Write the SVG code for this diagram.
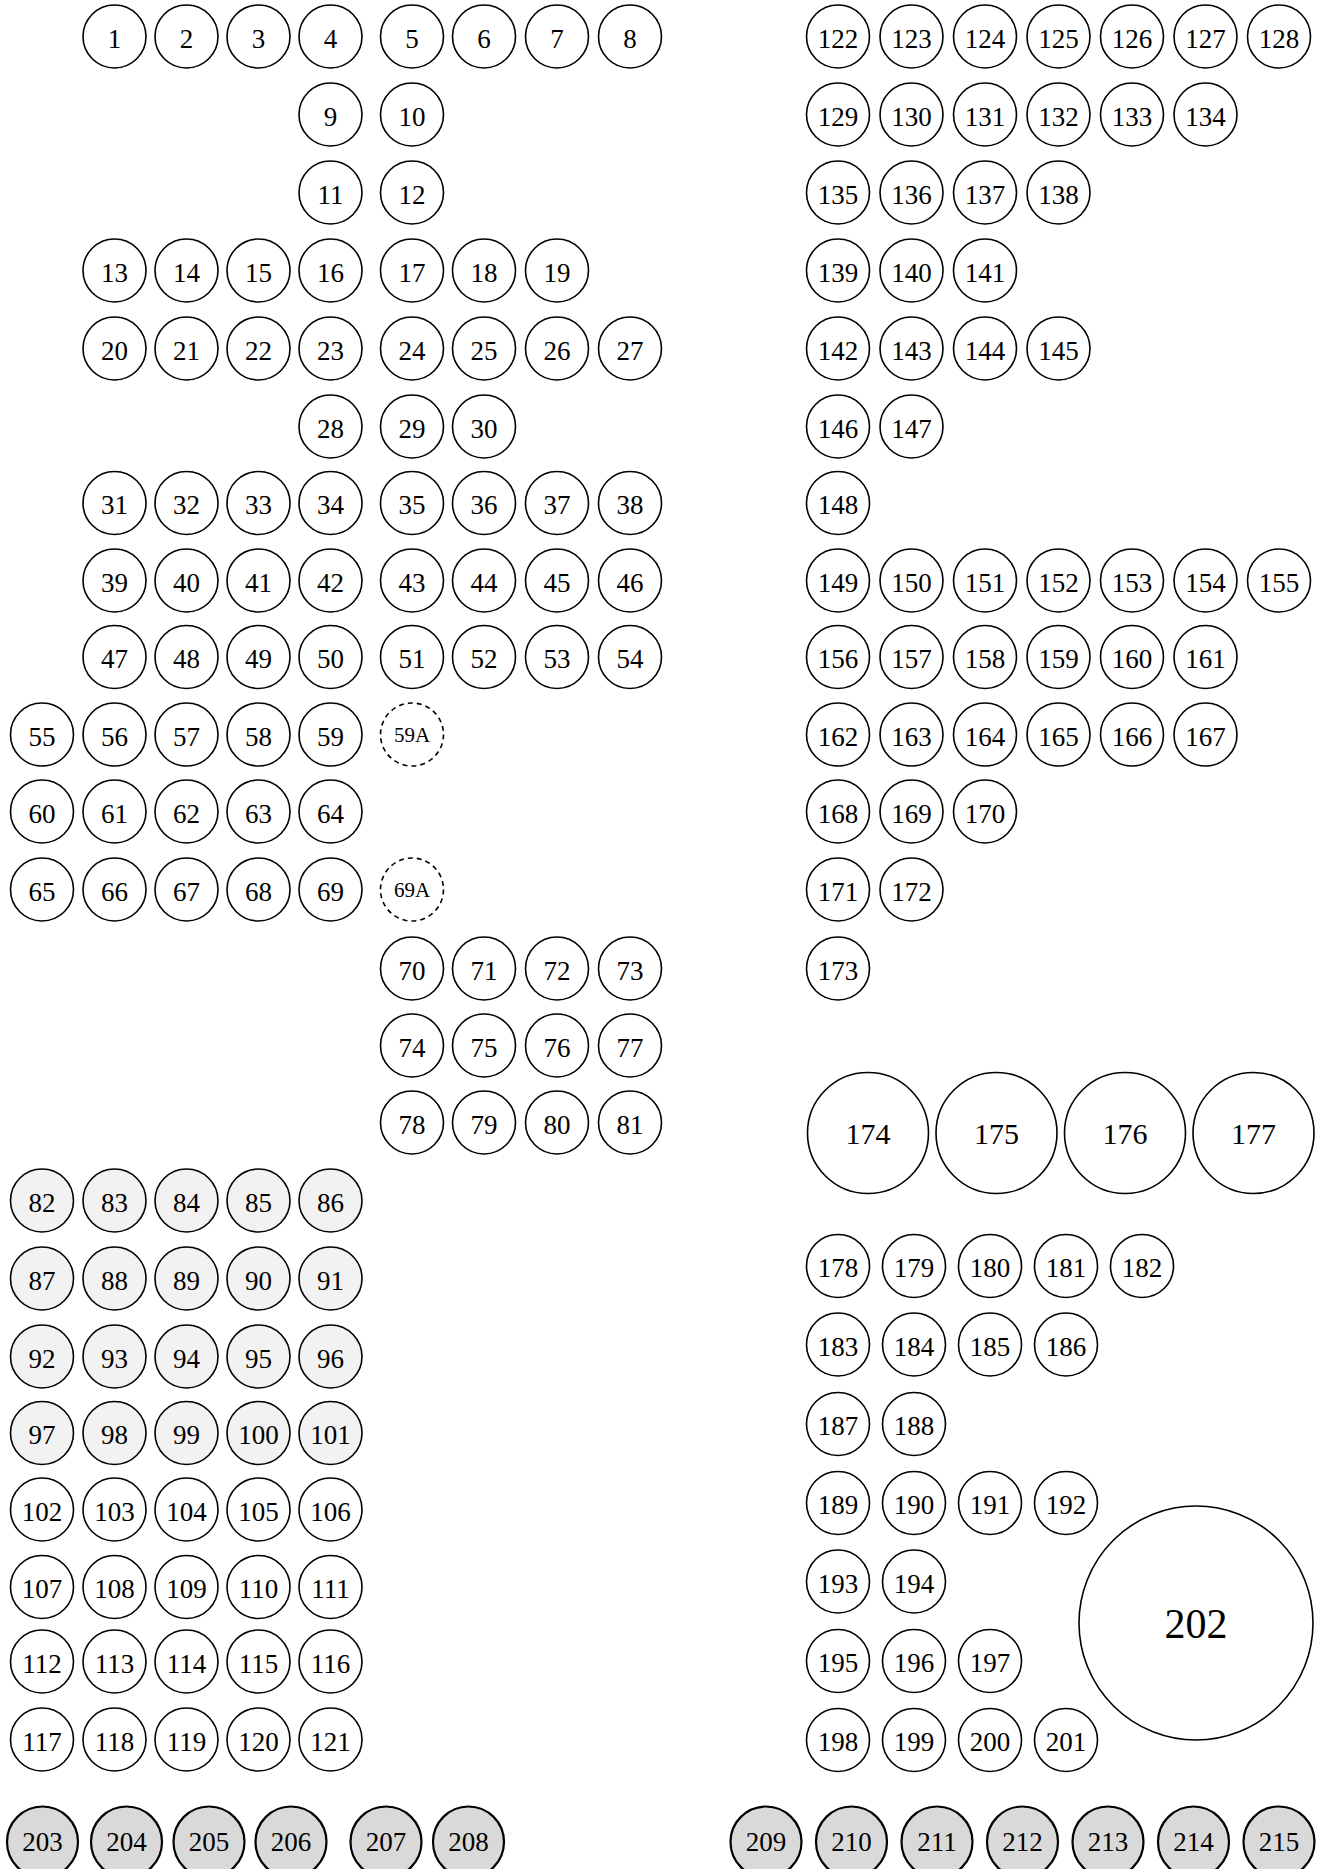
<svg xmlns="http://www.w3.org/2000/svg" width="1323" height="1869" viewBox="0 0 1323 1869">
<style>
circle{fill:#fff;stroke:#000;stroke-width:1.6}
circle.l{fill:#f2f2f2}
circle.g{fill:#d9d9d9;stroke-width:2.2}
circle.d{stroke-dasharray:5 4}
text{font-family:'Liberation Serif','Times New Roman',Times,serif;font-size:27px;text-anchor:middle;fill:#000}
text.s{font-size:21px}
text.b{font-size:30px}
text.x{font-size:42px}
</style>
<rect width="1323" height="1869" fill="#fff"/>
<g id="connectors"/>
<g id="nodes" font-family="Liberation Serif, Times New Roman, serif">
<g id="n1"><circle cx="114.5" cy="36.5" r="31.5"/><text x="114.5" y="47.5">1</text></g>
<g id="n2"><circle cx="186.5" cy="36.5" r="31.5"/><text x="186.5" y="47.5">2</text></g>
<g id="n3"><circle cx="258.5" cy="36.5" r="31.5"/><text x="258.5" y="47.5">3</text></g>
<g id="n4"><circle cx="330.5" cy="36.5" r="31.5"/><text x="330.5" y="47.5">4</text></g>
<g id="n5"><circle cx="412" cy="36.5" r="31.5"/><text x="412" y="47.5">5</text></g>
<g id="n6"><circle cx="484" cy="36.5" r="31.5"/><text x="484" y="47.5">6</text></g>
<g id="n7"><circle cx="557" cy="36.5" r="31.5"/><text x="557" y="47.5">7</text></g>
<g id="n8"><circle cx="630" cy="36.5" r="31.5"/><text x="630" y="47.5">8</text></g>
<g id="n9"><circle cx="330.5" cy="114.5" r="31.5"/><text x="330.5" y="125.5">9</text></g>
<g id="n10"><circle cx="412" cy="114.5" r="31.5"/><text x="412" y="125.5">10</text></g>
<g id="n11"><circle cx="330.5" cy="192.5" r="31.5"/><text x="330.5" y="203.5">11</text></g>
<g id="n12"><circle cx="412" cy="192.5" r="31.5"/><text x="412" y="203.5">12</text></g>
<g id="n13"><circle cx="114.5" cy="270.5" r="31.5"/><text x="114.5" y="281.5">13</text></g>
<g id="n14"><circle cx="186.5" cy="270.5" r="31.5"/><text x="186.5" y="281.5">14</text></g>
<g id="n15"><circle cx="258.5" cy="270.5" r="31.5"/><text x="258.5" y="281.5">15</text></g>
<g id="n16"><circle cx="330.5" cy="270.5" r="31.5"/><text x="330.5" y="281.5">16</text></g>
<g id="n17"><circle cx="412" cy="270.5" r="31.5"/><text x="412" y="281.5">17</text></g>
<g id="n18"><circle cx="484" cy="270.5" r="31.5"/><text x="484" y="281.5">18</text></g>
<g id="n19"><circle cx="557" cy="270.5" r="31.5"/><text x="557" y="281.5">19</text></g>
<g id="n20"><circle cx="114.5" cy="348.5" r="31.5"/><text x="114.5" y="359.5">20</text></g>
<g id="n21"><circle cx="186.5" cy="348.5" r="31.5"/><text x="186.5" y="359.5">21</text></g>
<g id="n22"><circle cx="258.5" cy="348.5" r="31.5"/><text x="258.5" y="359.5">22</text></g>
<g id="n23"><circle cx="330.5" cy="348.5" r="31.5"/><text x="330.5" y="359.5">23</text></g>
<g id="n24"><circle cx="412" cy="348.5" r="31.5"/><text x="412" y="359.5">24</text></g>
<g id="n25"><circle cx="484" cy="348.5" r="31.5"/><text x="484" y="359.5">25</text></g>
<g id="n26"><circle cx="557" cy="348.5" r="31.5"/><text x="557" y="359.5">26</text></g>
<g id="n27"><circle cx="630" cy="348.5" r="31.5"/><text x="630" y="359.5">27</text></g>
<g id="n28"><circle cx="330.5" cy="426.5" r="31.5"/><text x="330.5" y="437.5">28</text></g>
<g id="n29"><circle cx="412" cy="426.5" r="31.5"/><text x="412" y="437.5">29</text></g>
<g id="n30"><circle cx="484" cy="426.5" r="31.5"/><text x="484" y="437.5">30</text></g>
<g id="n31"><circle cx="114.5" cy="503" r="31.5"/><text x="114.5" y="514">31</text></g>
<g id="n32"><circle cx="186.5" cy="503" r="31.5"/><text x="186.5" y="514">32</text></g>
<g id="n33"><circle cx="258.5" cy="503" r="31.5"/><text x="258.5" y="514">33</text></g>
<g id="n34"><circle cx="330.5" cy="503" r="31.5"/><text x="330.5" y="514">34</text></g>
<g id="n35"><circle cx="412" cy="503" r="31.5"/><text x="412" y="514">35</text></g>
<g id="n36"><circle cx="484" cy="503" r="31.5"/><text x="484" y="514">36</text></g>
<g id="n37"><circle cx="557" cy="503" r="31.5"/><text x="557" y="514">37</text></g>
<g id="n38"><circle cx="630" cy="503" r="31.5"/><text x="630" y="514">38</text></g>
<g id="n39"><circle cx="114.5" cy="580.5" r="31.5"/><text x="114.5" y="591.5">39</text></g>
<g id="n40"><circle cx="186.5" cy="580.5" r="31.5"/><text x="186.5" y="591.5">40</text></g>
<g id="n41"><circle cx="258.5" cy="580.5" r="31.5"/><text x="258.5" y="591.5">41</text></g>
<g id="n42"><circle cx="330.5" cy="580.5" r="31.5"/><text x="330.5" y="591.5">42</text></g>
<g id="n43"><circle cx="412" cy="580.5" r="31.5"/><text x="412" y="591.5">43</text></g>
<g id="n44"><circle cx="484" cy="580.5" r="31.5"/><text x="484" y="591.5">44</text></g>
<g id="n45"><circle cx="557" cy="580.5" r="31.5"/><text x="557" y="591.5">45</text></g>
<g id="n46"><circle cx="630" cy="580.5" r="31.5"/><text x="630" y="591.5">46</text></g>
<g id="n47"><circle cx="114.5" cy="657" r="31.5"/><text x="114.5" y="668">47</text></g>
<g id="n48"><circle cx="186.5" cy="657" r="31.5"/><text x="186.5" y="668">48</text></g>
<g id="n49"><circle cx="258.5" cy="657" r="31.5"/><text x="258.5" y="668">49</text></g>
<g id="n50"><circle cx="330.5" cy="657" r="31.5"/><text x="330.5" y="668">50</text></g>
<g id="n51"><circle cx="412" cy="657" r="31.5"/><text x="412" y="668">51</text></g>
<g id="n52"><circle cx="484" cy="657" r="31.5"/><text x="484" y="668">52</text></g>
<g id="n53"><circle cx="557" cy="657" r="31.5"/><text x="557" y="668">53</text></g>
<g id="n54"><circle cx="630" cy="657" r="31.5"/><text x="630" y="668">54</text></g>
<g id="n55"><circle cx="42" cy="734.5" r="31.5"/><text x="42" y="745.5">55</text></g>
<g id="n56"><circle cx="114.5" cy="734.5" r="31.5"/><text x="114.5" y="745.5">56</text></g>
<g id="n57"><circle cx="186.5" cy="734.5" r="31.5"/><text x="186.5" y="745.5">57</text></g>
<g id="n58"><circle cx="258.5" cy="734.5" r="31.5"/><text x="258.5" y="745.5">58</text></g>
<g id="n59"><circle cx="330.5" cy="734.5" r="31.5"/><text x="330.5" y="745.5">59</text></g>
<g id="n59A"><circle class="d" cx="412" cy="734.5" r="31.5"/><text class="s" x="412" y="742">59A</text></g>
<g id="n60"><circle cx="42" cy="811.5" r="31.5"/><text x="42" y="822.5">60</text></g>
<g id="n61"><circle cx="114.5" cy="811.5" r="31.5"/><text x="114.5" y="822.5">61</text></g>
<g id="n62"><circle cx="186.5" cy="811.5" r="31.5"/><text x="186.5" y="822.5">62</text></g>
<g id="n63"><circle cx="258.5" cy="811.5" r="31.5"/><text x="258.5" y="822.5">63</text></g>
<g id="n64"><circle cx="330.5" cy="811.5" r="31.5"/><text x="330.5" y="822.5">64</text></g>
<g id="n65"><circle cx="42" cy="889.5" r="31.5"/><text x="42" y="900.5">65</text></g>
<g id="n66"><circle cx="114.5" cy="889.5" r="31.5"/><text x="114.5" y="900.5">66</text></g>
<g id="n67"><circle cx="186.5" cy="889.5" r="31.5"/><text x="186.5" y="900.5">67</text></g>
<g id="n68"><circle cx="258.5" cy="889.5" r="31.5"/><text x="258.5" y="900.5">68</text></g>
<g id="n69"><circle cx="330.5" cy="889.5" r="31.5"/><text x="330.5" y="900.5">69</text></g>
<g id="n69A"><circle class="d" cx="412" cy="889.5" r="31.5"/><text class="s" x="412" y="897">69A</text></g>
<g id="n70"><circle cx="412" cy="968.5" r="31.5"/><text x="412" y="979.5">70</text></g>
<g id="n71"><circle cx="484" cy="968.5" r="31.5"/><text x="484" y="979.5">71</text></g>
<g id="n72"><circle cx="557" cy="968.5" r="31.5"/><text x="557" y="979.5">72</text></g>
<g id="n73"><circle cx="630" cy="968.5" r="31.5"/><text x="630" y="979.5">73</text></g>
<g id="n74"><circle cx="412" cy="1045.5" r="31.5"/><text x="412" y="1056.5">74</text></g>
<g id="n75"><circle cx="484" cy="1045.5" r="31.5"/><text x="484" y="1056.5">75</text></g>
<g id="n76"><circle cx="557" cy="1045.5" r="31.5"/><text x="557" y="1056.5">76</text></g>
<g id="n77"><circle cx="630" cy="1045.5" r="31.5"/><text x="630" y="1056.5">77</text></g>
<g id="n78"><circle cx="412" cy="1122.5" r="31.5"/><text x="412" y="1133.5">78</text></g>
<g id="n79"><circle cx="484" cy="1122.5" r="31.5"/><text x="484" y="1133.5">79</text></g>
<g id="n80"><circle cx="557" cy="1122.5" r="31.5"/><text x="557" y="1133.5">80</text></g>
<g id="n81"><circle cx="630" cy="1122.5" r="31.5"/><text x="630" y="1133.5">81</text></g>
<g id="n82"><circle class="l" cx="42" cy="1200.5" r="31.5"/><text x="42" y="1211.5">82</text></g>
<g id="n83"><circle class="l" cx="114.5" cy="1200.5" r="31.5"/><text x="114.5" y="1211.5">83</text></g>
<g id="n84"><circle class="l" cx="186.5" cy="1200.5" r="31.5"/><text x="186.5" y="1211.5">84</text></g>
<g id="n85"><circle class="l" cx="258.5" cy="1200.5" r="31.5"/><text x="258.5" y="1211.5">85</text></g>
<g id="n86"><circle class="l" cx="330.5" cy="1200.5" r="31.5"/><text x="330.5" y="1211.5">86</text></g>
<g id="n87"><circle class="l" cx="42" cy="1278.5" r="31.5"/><text x="42" y="1289.5">87</text></g>
<g id="n88"><circle class="l" cx="114.5" cy="1278.5" r="31.5"/><text x="114.5" y="1289.5">88</text></g>
<g id="n89"><circle class="l" cx="186.5" cy="1278.5" r="31.5"/><text x="186.5" y="1289.5">89</text></g>
<g id="n90"><circle class="l" cx="258.5" cy="1278.5" r="31.5"/><text x="258.5" y="1289.5">90</text></g>
<g id="n91"><circle class="l" cx="330.5" cy="1278.5" r="31.5"/><text x="330.5" y="1289.5">91</text></g>
<g id="n92"><circle class="l" cx="42" cy="1356.5" r="31.5"/><text x="42" y="1367.5">92</text></g>
<g id="n93"><circle class="l" cx="114.5" cy="1356.5" r="31.5"/><text x="114.5" y="1367.5">93</text></g>
<g id="n94"><circle class="l" cx="186.5" cy="1356.5" r="31.5"/><text x="186.5" y="1367.5">94</text></g>
<g id="n95"><circle class="l" cx="258.5" cy="1356.5" r="31.5"/><text x="258.5" y="1367.5">95</text></g>
<g id="n96"><circle class="l" cx="330.5" cy="1356.5" r="31.5"/><text x="330.5" y="1367.5">96</text></g>
<g id="n97"><circle class="l" cx="42" cy="1433" r="31.5"/><text x="42" y="1444">97</text></g>
<g id="n98"><circle class="l" cx="114.5" cy="1433" r="31.5"/><text x="114.5" y="1444">98</text></g>
<g id="n99"><circle class="l" cx="186.5" cy="1433" r="31.5"/><text x="186.5" y="1444">99</text></g>
<g id="n100"><circle class="l" cx="258.5" cy="1433" r="31.5"/><text x="258.5" y="1444">100</text></g>
<g id="n101"><circle class="l" cx="330.5" cy="1433" r="31.5"/><text x="330.5" y="1444">101</text></g>
<g id="n102"><circle cx="42" cy="1509.5" r="31.5"/><text x="42" y="1520.5">102</text></g>
<g id="n103"><circle cx="114.5" cy="1509.5" r="31.5"/><text x="114.5" y="1520.5">103</text></g>
<g id="n104"><circle cx="186.5" cy="1509.5" r="31.5"/><text x="186.5" y="1520.5">104</text></g>
<g id="n105"><circle cx="258.5" cy="1509.5" r="31.5"/><text x="258.5" y="1520.5">105</text></g>
<g id="n106"><circle cx="330.5" cy="1509.5" r="31.5"/><text x="330.5" y="1520.5">106</text></g>
<g id="n107"><circle cx="42" cy="1587" r="31.5"/><text x="42" y="1598">107</text></g>
<g id="n108"><circle cx="114.5" cy="1587" r="31.5"/><text x="114.5" y="1598">108</text></g>
<g id="n109"><circle cx="186.5" cy="1587" r="31.5"/><text x="186.5" y="1598">109</text></g>
<g id="n110"><circle cx="258.5" cy="1587" r="31.5"/><text x="258.5" y="1598">110</text></g>
<g id="n111"><circle cx="330.5" cy="1587" r="31.5"/><text x="330.5" y="1598">111</text></g>
<g id="n112"><circle cx="42" cy="1661.5" r="31.5"/><text x="42" y="1672.5">112</text></g>
<g id="n113"><circle cx="114.5" cy="1661.5" r="31.5"/><text x="114.5" y="1672.5">113</text></g>
<g id="n114"><circle cx="186.5" cy="1661.5" r="31.5"/><text x="186.5" y="1672.5">114</text></g>
<g id="n115"><circle cx="258.5" cy="1661.5" r="31.5"/><text x="258.5" y="1672.5">115</text></g>
<g id="n116"><circle cx="330.5" cy="1661.5" r="31.5"/><text x="330.5" y="1672.5">116</text></g>
<g id="n117"><circle cx="42" cy="1739.5" r="31.5"/><text x="42" y="1750.5">117</text></g>
<g id="n118"><circle cx="114.5" cy="1739.5" r="31.5"/><text x="114.5" y="1750.5">118</text></g>
<g id="n119"><circle cx="186.5" cy="1739.5" r="31.5"/><text x="186.5" y="1750.5">119</text></g>
<g id="n120"><circle cx="258.5" cy="1739.5" r="31.5"/><text x="258.5" y="1750.5">120</text></g>
<g id="n121"><circle cx="330.5" cy="1739.5" r="31.5"/><text x="330.5" y="1750.5">121</text></g>
<g id="n122"><circle cx="838" cy="36.5" r="31.5"/><text x="838" y="47.5">122</text></g>
<g id="n123"><circle cx="911.5" cy="36.5" r="31.5"/><text x="911.5" y="47.5">123</text></g>
<g id="n124"><circle cx="985" cy="36.5" r="31.5"/><text x="985" y="47.5">124</text></g>
<g id="n125"><circle cx="1058.5" cy="36.5" r="31.5"/><text x="1058.5" y="47.5">125</text></g>
<g id="n126"><circle cx="1132" cy="36.5" r="31.5"/><text x="1132" y="47.5">126</text></g>
<g id="n127"><circle cx="1205.5" cy="36.5" r="31.5"/><text x="1205.5" y="47.5">127</text></g>
<g id="n128"><circle cx="1279" cy="36.5" r="31.5"/><text x="1279" y="47.5">128</text></g>
<g id="n129"><circle cx="838" cy="114.5" r="31.5"/><text x="838" y="125.5">129</text></g>
<g id="n130"><circle cx="911.5" cy="114.5" r="31.5"/><text x="911.5" y="125.5">130</text></g>
<g id="n131"><circle cx="985" cy="114.5" r="31.5"/><text x="985" y="125.5">131</text></g>
<g id="n132"><circle cx="1058.5" cy="114.5" r="31.5"/><text x="1058.5" y="125.5">132</text></g>
<g id="n133"><circle cx="1132" cy="114.5" r="31.5"/><text x="1132" y="125.5">133</text></g>
<g id="n134"><circle cx="1205.5" cy="114.5" r="31.5"/><text x="1205.5" y="125.5">134</text></g>
<g id="n135"><circle cx="838" cy="192.5" r="31.5"/><text x="838" y="203.5">135</text></g>
<g id="n136"><circle cx="911.5" cy="192.5" r="31.5"/><text x="911.5" y="203.5">136</text></g>
<g id="n137"><circle cx="985" cy="192.5" r="31.5"/><text x="985" y="203.5">137</text></g>
<g id="n138"><circle cx="1058.5" cy="192.5" r="31.5"/><text x="1058.5" y="203.5">138</text></g>
<g id="n139"><circle cx="838" cy="270.5" r="31.5"/><text x="838" y="281.5">139</text></g>
<g id="n140"><circle cx="911.5" cy="270.5" r="31.5"/><text x="911.5" y="281.5">140</text></g>
<g id="n141"><circle cx="985" cy="270.5" r="31.5"/><text x="985" y="281.5">141</text></g>
<g id="n142"><circle cx="838" cy="348.5" r="31.5"/><text x="838" y="359.5">142</text></g>
<g id="n143"><circle cx="911.5" cy="348.5" r="31.5"/><text x="911.5" y="359.5">143</text></g>
<g id="n144"><circle cx="985" cy="348.5" r="31.5"/><text x="985" y="359.5">144</text></g>
<g id="n145"><circle cx="1058.5" cy="348.5" r="31.5"/><text x="1058.5" y="359.5">145</text></g>
<g id="n146"><circle cx="838" cy="426.5" r="31.5"/><text x="838" y="437.5">146</text></g>
<g id="n147"><circle cx="911.5" cy="426.5" r="31.5"/><text x="911.5" y="437.5">147</text></g>
<g id="n148"><circle cx="838" cy="503" r="31.5"/><text x="838" y="514">148</text></g>
<g id="n149"><circle cx="838" cy="580.5" r="31.5"/><text x="838" y="591.5">149</text></g>
<g id="n150"><circle cx="911.5" cy="580.5" r="31.5"/><text x="911.5" y="591.5">150</text></g>
<g id="n151"><circle cx="985" cy="580.5" r="31.5"/><text x="985" y="591.5">151</text></g>
<g id="n152"><circle cx="1058.5" cy="580.5" r="31.5"/><text x="1058.5" y="591.5">152</text></g>
<g id="n153"><circle cx="1132" cy="580.5" r="31.5"/><text x="1132" y="591.5">153</text></g>
<g id="n154"><circle cx="1205.5" cy="580.5" r="31.5"/><text x="1205.5" y="591.5">154</text></g>
<g id="n155"><circle cx="1279" cy="580.5" r="31.5"/><text x="1279" y="591.5">155</text></g>
<g id="n156"><circle cx="838" cy="657" r="31.5"/><text x="838" y="668">156</text></g>
<g id="n157"><circle cx="911.5" cy="657" r="31.5"/><text x="911.5" y="668">157</text></g>
<g id="n158"><circle cx="985" cy="657" r="31.5"/><text x="985" y="668">158</text></g>
<g id="n159"><circle cx="1058.5" cy="657" r="31.5"/><text x="1058.5" y="668">159</text></g>
<g id="n160"><circle cx="1132" cy="657" r="31.5"/><text x="1132" y="668">160</text></g>
<g id="n161"><circle cx="1205.5" cy="657" r="31.5"/><text x="1205.5" y="668">161</text></g>
<g id="n162"><circle cx="838" cy="734.5" r="31.5"/><text x="838" y="745.5">162</text></g>
<g id="n163"><circle cx="911.5" cy="734.5" r="31.5"/><text x="911.5" y="745.5">163</text></g>
<g id="n164"><circle cx="985" cy="734.5" r="31.5"/><text x="985" y="745.5">164</text></g>
<g id="n165"><circle cx="1058.5" cy="734.5" r="31.5"/><text x="1058.5" y="745.5">165</text></g>
<g id="n166"><circle cx="1132" cy="734.5" r="31.5"/><text x="1132" y="745.5">166</text></g>
<g id="n167"><circle cx="1205.5" cy="734.5" r="31.5"/><text x="1205.5" y="745.5">167</text></g>
<g id="n168"><circle cx="838" cy="811.5" r="31.5"/><text x="838" y="822.5">168</text></g>
<g id="n169"><circle cx="911.5" cy="811.5" r="31.5"/><text x="911.5" y="822.5">169</text></g>
<g id="n170"><circle cx="985" cy="811.5" r="31.5"/><text x="985" y="822.5">170</text></g>
<g id="n171"><circle cx="838" cy="889.5" r="31.5"/><text x="838" y="900.5">171</text></g>
<g id="n172"><circle cx="911.5" cy="889.5" r="31.5"/><text x="911.5" y="900.5">172</text></g>
<g id="n173"><circle cx="838" cy="968.5" r="31.5"/><text x="838" y="979.5">173</text></g>
<g id="n174"><circle cx="868" cy="1133" r="60.5"/><text class="b" x="868" y="1143.5">174</text></g>
<g id="n175"><circle cx="996.5" cy="1133" r="60.5"/><text class="b" x="996.5" y="1143.5">175</text></g>
<g id="n176"><circle cx="1125" cy="1133" r="60.5"/><text class="b" x="1125" y="1143.5">176</text></g>
<g id="n177"><circle cx="1253.5" cy="1133" r="60.5"/><text class="b" x="1253.5" y="1143.5">177</text></g>
<g id="n178"><circle cx="838" cy="1266" r="31.5"/><text x="838" y="1277">178</text></g>
<g id="n179"><circle cx="914" cy="1266" r="31.5"/><text x="914" y="1277">179</text></g>
<g id="n180"><circle cx="990" cy="1266" r="31.5"/><text x="990" y="1277">180</text></g>
<g id="n181"><circle cx="1066" cy="1266" r="31.5"/><text x="1066" y="1277">181</text></g>
<g id="n182"><circle cx="1142" cy="1266" r="31.5"/><text x="1142" y="1277">182</text></g>
<g id="n183"><circle cx="838" cy="1344.5" r="31.5"/><text x="838" y="1355.5">183</text></g>
<g id="n184"><circle cx="914" cy="1344.5" r="31.5"/><text x="914" y="1355.5">184</text></g>
<g id="n185"><circle cx="990" cy="1344.5" r="31.5"/><text x="990" y="1355.5">185</text></g>
<g id="n186"><circle cx="1066" cy="1344.5" r="31.5"/><text x="1066" y="1355.5">186</text></g>
<g id="n187"><circle cx="838" cy="1424" r="31.5"/><text x="838" y="1435">187</text></g>
<g id="n188"><circle cx="914" cy="1424" r="31.5"/><text x="914" y="1435">188</text></g>
<g id="n189"><circle cx="838" cy="1503" r="31.5"/><text x="838" y="1514">189</text></g>
<g id="n190"><circle cx="914" cy="1503" r="31.5"/><text x="914" y="1514">190</text></g>
<g id="n191"><circle cx="990" cy="1503" r="31.5"/><text x="990" y="1514">191</text></g>
<g id="n192"><circle cx="1066" cy="1503" r="31.5"/><text x="1066" y="1514">192</text></g>
<g id="n193"><circle cx="838" cy="1581.5" r="31.5"/><text x="838" y="1592.5">193</text></g>
<g id="n194"><circle cx="914" cy="1581.5" r="31.5"/><text x="914" y="1592.5">194</text></g>
<g id="n195"><circle cx="838" cy="1661" r="31.5"/><text x="838" y="1672">195</text></g>
<g id="n196"><circle cx="914" cy="1661" r="31.5"/><text x="914" y="1672">196</text></g>
<g id="n197"><circle cx="990" cy="1661" r="31.5"/><text x="990" y="1672">197</text></g>
<g id="n198"><circle cx="838" cy="1740" r="31.5"/><text x="838" y="1751">198</text></g>
<g id="n199"><circle cx="914" cy="1740" r="31.5"/><text x="914" y="1751">199</text></g>
<g id="n200"><circle cx="990" cy="1740" r="31.5"/><text x="990" y="1751">200</text></g>
<g id="n201"><circle cx="1066" cy="1740" r="31.5"/><text x="1066" y="1751">201</text></g>
<g id="n202"><circle cx="1196" cy="1623" r="117"/><text class="x" x="1196" y="1638">202</text></g>
<g id="n203"><circle class="g" cx="42.5" cy="1842" r="35.5"/><text x="42.5" y="1851">203</text></g>
<g id="n204"><circle class="g" cx="126.5" cy="1842" r="35.5"/><text x="126.5" y="1851">204</text></g>
<g id="n205"><circle class="g" cx="209" cy="1842" r="35.5"/><text x="209" y="1851">205</text></g>
<g id="n206"><circle class="g" cx="291" cy="1842" r="35.5"/><text x="291" y="1851">206</text></g>
<g id="n207"><circle class="g" cx="386" cy="1842" r="35.5"/><text x="386" y="1851">207</text></g>
<g id="n208"><circle class="g" cx="468.5" cy="1842" r="35.5"/><text x="468.5" y="1851">208</text></g>
<g id="n209"><circle class="g" cx="766" cy="1842" r="35.5"/><text x="766" y="1851">209</text></g>
<g id="n210"><circle class="g" cx="851.5" cy="1842" r="35.5"/><text x="851.5" y="1851">210</text></g>
<g id="n211"><circle class="g" cx="937" cy="1842" r="35.5"/><text x="937" y="1851">211</text></g>
<g id="n212"><circle class="g" cx="1022.5" cy="1842" r="35.5"/><text x="1022.5" y="1851">212</text></g>
<g id="n213"><circle class="g" cx="1108" cy="1842" r="35.5"/><text x="1108" y="1851">213</text></g>
<g id="n214"><circle class="g" cx="1193.5" cy="1842" r="35.5"/><text x="1193.5" y="1851">214</text></g>
<g id="n215"><circle class="g" cx="1279" cy="1842" r="35.5"/><text x="1279" y="1851">215</text></g>
</g>
</svg>
